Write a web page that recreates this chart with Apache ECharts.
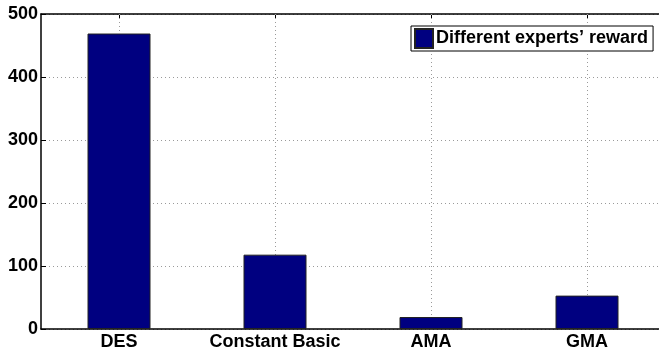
<!DOCTYPE html>
<html>
<head>
<meta charset="utf-8">
<style>
  html, body { margin: 0; padding: 0; background: #fff; }
  #chart { width: 659px; height: 354px; }
</style>
<script src="https://cdn.jsdelivr.net/npm/echarts@6/dist/echarts.min.js"></script>
</head>
<body>
<div id="chart"></div>
<script>
// Reward obtained by each expert strategy
const categories = ['DES', 'Constant Basic', 'AMA', 'GMA'];
const rewards = [469, 118, 19, 53];
const seriesName = 'Different experts\u2019 reward';
const yTicks = [0, 100, 200, 300, 400, 500];

const FONT = '"Liberation Sans", Arial, Helvetica, sans-serif';
const gridLine = { show: true, lineStyle: { color: '#9a9a9a', type: [1, 3], width: 1 } };

const chart = echarts.init(document.getElementById('chart'), null, { renderer: 'canvas' });
chart.setOption({
  animation: false,
  backgroundColor: '#fff',
  textStyle: { fontFamily: FONT },
  grid: {
    left: 41, top: 14, width: 624, height: 315,
    outerBoundsMode: 'none',
    containLabel: false,
    show: false
  },
  legend: {
    left: 411, top: 26,
    padding: [2, 5, 2, 3],
    itemGap: 0,
    itemWidth: 18, itemHeight: 19,
    borderColor: '#000', borderWidth: 1,
    backgroundColor: '#fff',
    icon: 'rect',
    textStyle: { fontFamily: FONT, fontSize: 18, fontWeight: 'bold', color: '#000', padding: [0, 0, 0, -2] },
    data: [seriesName]
  },
  xAxis: [
    {
      type: 'category',
      data: categories,
      position: 'bottom',
      axisLine: { show: true, lineStyle: { color: '#000', width: 1.5 } },
      axisTick: { show: true, inside: true, alignWithLabel: true, length: 5, lineStyle: { color: '#000' } },
      axisLabel: { interval: 0, color: '#000', fontSize: 18, fontWeight: 'bold', fontFamily: FONT, margin: 4 },
      splitLine: Object.assign({ alignWithLabel: true, interval: 0 }, gridLine),
      z: 1
    },
    {
      type: 'category',
      data: categories,
      position: 'top',
      axisLine: { show: true, lineStyle: { color: '#000', width: 1.5 } },
      axisTick: { show: true, inside: true, alignWithLabel: true, interval: 0, length: 5, lineStyle: { color: '#000' } },
      axisLabel: { show: false },
      splitLine: { show: false }
    }
  ],
  yAxis: {
    type: 'value',
    min: yTicks[0], max: yTicks[yTicks.length - 1], interval: 100,
    axisLine: { show: true, lineStyle: { color: '#000', width: 1.5 } },
    axisTick: { show: true, inside: true, length: 5, lineStyle: { color: '#000' } },
    axisLabel: { color: '#000', fontSize: 18, fontWeight: 'bold', fontFamily: FONT, margin: 3 },
    splitLine: gridLine
  },
  series: [{
    name: seriesName,
    type: 'bar',
    data: rewards,
    barWidth: 63,
    itemStyle: { color: '#000080', borderColor: '#222', borderWidth: 1 },
    z: 3
  }]
});
</script>
</body>
</html>
